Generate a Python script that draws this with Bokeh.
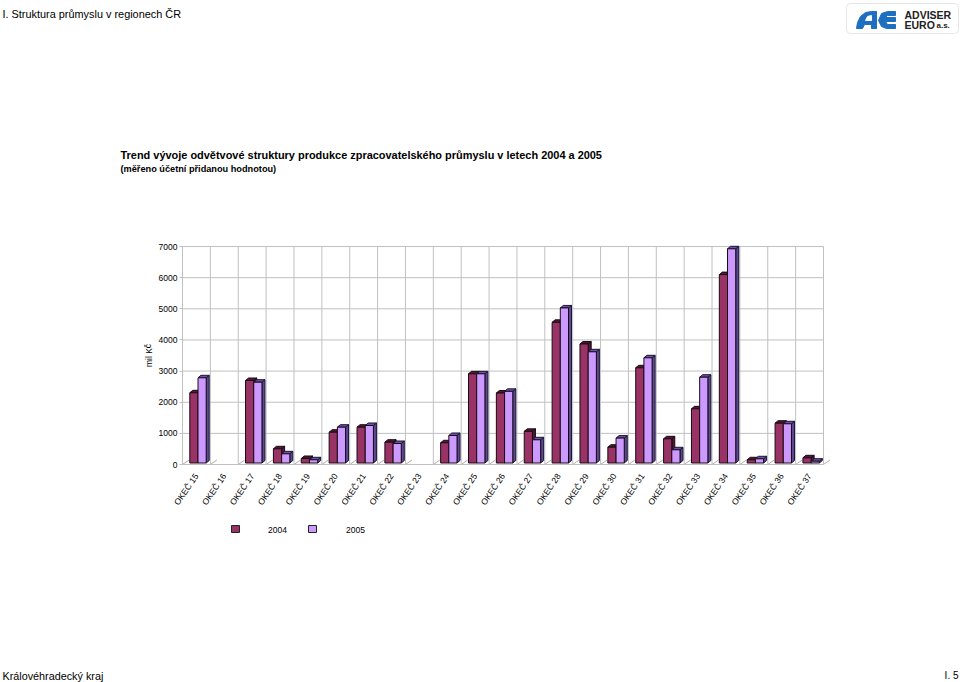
from bokeh.plotting import figure
from bokeh.embed import file_html
from bokeh.resources import INLINE
from bokeh.models import Range1d, FixedTicker
from bokeh.core.properties import value

categories = ["OKEČ 15","OKEČ 16","OKEČ 17","OKEČ 18","OKEČ 19","OKEČ 20","OKEČ 21","OKEČ 22","OKEČ 23","OKEČ 24","OKEČ 25","OKEČ 26","OKEČ 27","OKEČ 28","OKEČ 29","OKEČ 30","OKEČ 31","OKEČ 32","OKEČ 33","OKEČ 34","OKEČ 35","OKEČ 36","OKEČ 37"]
v2004 = [2254,0,2649,456,145,989,1150,668,0,649,2864,2248,1017,4517,3821,507,3057,777,1740,6050,103,1278,167]
v2005 = [2736,0,2595,295,103,1150,1204,626,0,883,2864,2301,745,4980,3571,800,3378,424,2755,6879,135,1259,58]
yticks = [0,1000,2000,3000,4000,5000,6000,7000]
series_names = ["2004","2005"]
colors = ["#993366","#CC99FF"]
side_colors = ["#4d1a33","#5a4a90"]
top_colors = ["#4d1a33","#6a55a5"]
outlines = ["#1a0a14","#1c1438"]

W,H = 960,682
X0,X1 = 182,832
Y0,Y1 = 464,240
PXCAT = 27.87
PXVAL = 31.14/1000
GRID = "#c0c0c0"
FONT = "Liberation Sans"
INK = "#000000"

# ---------- page layer: texts, logo, legend, in page pixels ----------
bg = figure(width=W,height=H,output_backend="svg",toolbar_location=None,
            x_range=Range1d(0,W),y_range=Range1d(H,0),min_border=0,
            outline_line_color=None,background_fill_color="white",border_fill_color="white")
bg.axis.visible=False
bg.grid.visible=False
bg.styles={"position":"absolute","left":"0","top":"0"}

def lab(x,y,t,size,weight="normal",color=INK,align="left",base="alphabetic",angle=0):
    bg.text(x=[x],y=[y],text=[t],text_font=value(FONT),text_font_size=size,text_font_style=weight,
            text_color=color,text_align=align,text_baseline=base,angle=angle)

lab(2,13,"I. Struktura průmyslu v regionech ČR","10.9px")
lab(120,154,"Trend vývoje odvětvové struktury produkce zpracovatelského průmyslu v letech 2004 a 2005","10.95px","bold")
lab(120,168,"(měřeno účetní přidanou hodnotou)","9.2px","bold")
lab(148,355,"mil Kč","8.5px",align="center",base="middle",angle=1.5708)
lab(2,675,"Královéhradecký kraj","10.8px")
lab(958,675,"I. 5","10px",align="right")

# logo
blue="#1f6fc0"
bg.quad(left=[846],right=[958],top=[3],bottom=[33],fill_color="white",line_color="#e6e6e6",line_width=1,border_radius=4)
bg.patch(x=[856,857,860,865,871,876,876,871,871,864,862],y=[28,22,16,12,11,11,28,28,24,24,28],fill_color=blue,line_color=blue)
bg.patch(x=[871,865,867,871],y=[20,20,16,15],fill_color="white",line_color="white")
bg.patch(x=[887,895,895,887,885,895,895,885,887,895,895,886,881,878,881],y=[11,11,15,15,17,17,21,21,24,24,28,28,26,20,13],fill_color=blue,line_color=blue)
lab(904,14,"ADVISER","10.5px","bold","#222222")
lab(904,24.5,"EURO","10.5px","bold","#222222")
lab(936,25,"a.s.","8px","bold","#222222")

# legend
leg_x=[231,308]
leg_t=[277,355]
for k,s in enumerate(series_names):
    bg.quad(left=[leg_x[k]],right=[leg_x[k]+8],top=[525],bottom=[532],fill_color=colors[k],line_color="#222222",line_width=1)
    lab(leg_t[k],529,s,"8.5px",align="center",base="middle")

# ---------- chart layer ----------
xend = (X1-X0)/PXCAT
yend = (Y0-Y1)/PXVAL
p = figure(width=W,height=H,output_backend="svg",toolbar_location=None,
           x_range=Range1d(0,xend),y_range=Range1d(0,yend),
           min_border_left=X0,min_border_right=W-X1,min_border_top=Y1,min_border_bottom=H-Y0,
           outline_line_color=None,background_fill_alpha=0,border_fill_alpha=0)
p.styles = {"position":"absolute","left":"0","top":"0"}
p.grid.visible = False

n = len(categories)
bounds = list(range(n+1))
centers = [i+0.5 for i in range(n)]
p.segment(x0=bounds,x1=bounds,y0=[0]*(n+1),y1=[yticks[-1]]*(n+1),line_color=GRID,line_width=1)
p.segment(x0=[0]*len(yticks),x1=[n]*len(yticks),y0=yticks,y1=yticks,line_color=GRID,line_width=1)
fdx,fdy = 6.5/PXCAT,4.5/PXVAL
p.segment(x0=bounds,x1=[b+fdx for b in bounds],y0=[0]*(n+1),y1=[fdy]*(n+1),line_color="#b8a8b0",line_width=1)

BASE = 1.5/PXVAL
DX,DY = 3/PXCAT,2.5/PXVAL
L0 = 7.3/PXCAT
BW = 8.2/PXCAT
for k,vals in enumerate((v2004,v2005)):
    idx=[i for i,v in enumerate(vals) if v>0]
    left=[i+L0+k*BW for i in idx]
    right=[l+BW for l in left]
    top=[BASE+vals[i] for i in idx]
    bot=[BASE]*len(idx)
    p.patches(xs=[[r,r+DX,r+DX,r] for r in right],
              ys=[[b,b+DY,t+DY,t] for b,t in zip(bot,top)],
              fill_color=side_colors[k],line_color=outlines[k],line_width=1)
    p.patches(xs=[[l,l+DX,r+DX,r] for l,r in zip(left,right)],
              ys=[[t,t+DY,t+DY,t] for t in top],
              fill_color=top_colors[k],line_color=outlines[k],line_width=1)
    p.quad(left=left,right=right,bottom=bot,top=top,fill_color=colors[k],line_color=outlines[0],line_width=1)

xa=p.xaxis[0]
xa.ticker=FixedTicker(ticks=centers)
xa.major_label_overrides={c:t for c,t in zip(centers,categories)}
xa.bounds=(0,n)
xa.major_tick_line_color=None
xa.minor_tick_line_color=None
xa.axis_line_color=GRID
xa.major_label_orientation=0.97
xa.major_label_text_font=FONT
xa.major_label_text_font_size="8.5px"
xa.major_label_text_color=INK
xa.major_label_standoff=4
ya=p.yaxis[0]
ya.ticker=FixedTicker(ticks=yticks)
ya.bounds=(0,7000)
ya.minor_tick_line_color=None
ya.major_tick_line_color=GRID
ya.major_tick_out=3
ya.major_tick_in=0
ya.axis_line_color=GRID
ya.major_label_text_font=FONT
ya.major_label_text_font_size="8.5px"
ya.major_label_text_color=INK
ya.major_label_standoff=2

open("out.html","w").write(file_html([bg,p],INLINE))
